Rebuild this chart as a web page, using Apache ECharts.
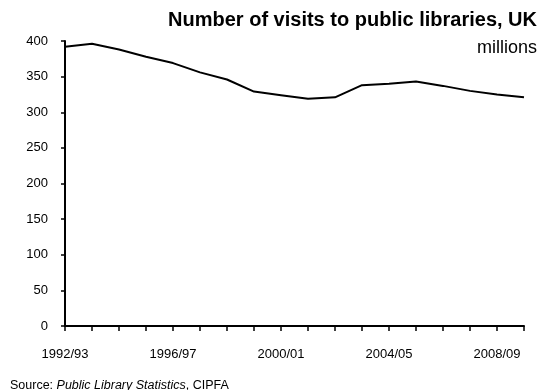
<!DOCTYPE html>
<html>
<head>
<meta charset="utf-8">
<script src="https://cdn.jsdelivr.net/npm/echarts@6/dist/echarts.min.js"></script>
<style>
  html, body { margin: 0; padding: 0; background: #fff; }
  #chart { width: 540px; height: 390px; }
</style>
</head>
<body>
<div id="chart"></div>
<script>
// financial years shown on the x axis
const years = [
  '1992/93', '1993/94', '1994/95', '1995/96', '1996/97', '1997/98',
  '1998/99', '1999/00', '2000/01', '2001/02', '2002/03', '2003/04',
  '2004/05', '2005/06', '2006/07', '2007/08', '2008/09', '2009/10'
];
// visits, millions
const visits = [392, 396, 388, 378, 369, 356, 346, 329, 324, 319, 321, 338, 340, 343, 337, 330, 325, 321];

const font = 'Liberation Sans, Arial, sans-serif';
const chart = echarts.init(document.getElementById('chart'), null, { renderer: 'canvas' });

chart.setOption({
  animation: false,
  textStyle: { fontFamily: font },
  title: [
    {
      text: 'Number of visits to public libraries, UK',
      right: 3, top: 10, padding: 0,
      textStyle: { fontFamily: font, fontSize: 20, fontWeight: 'bold', color: '#000' }
    },
    {
      text: 'millions',
      right: 3, top: 39, padding: 0,
      textStyle: { fontFamily: font, fontSize: 18, fontWeight: 'normal', color: '#000' }
    },
    {
      text: '{n|Source: }{i|Public Library Statistics}{n|, CIPFA}',
      left: 10, top: 379, padding: 0,
      textStyle: {
        fontWeight: 'normal',
        rich: {
          n: { fontFamily: font, fontSize: 12.5, fontWeight: 'normal', color: '#000' },
          i: { fontFamily: font, fontSize: 12.5, fontWeight: 'normal', fontStyle: 'italic', color: '#000' }
        }
      }
    }
  ],
  grid: { left: 65, right: 16, top: 41, bottom: 64 },
  xAxis: {
    type: 'category',
    data: years,
    boundaryGap: false,
    axisLine: { lineStyle: { color: '#000', width: 2 } },
    axisTick: { interval: 0, length: 5, lineStyle: { color: '#000', width: 1.5 } },
    axisLabel: { interval: 3, color: '#000', fontSize: 13, margin: 22 },
    splitLine: { show: false }
  },
  yAxis: {
    type: 'value',
    min: 0, max: 400, interval: 50,
    axisLine: { show: true, lineStyle: { color: '#000', width: 2 } },
    axisTick: { show: true, length: 4, lineStyle: { color: '#000', width: 1.5 } },
    axisLabel: { color: '#000', fontSize: 13, margin: 17 },
    splitLine: { show: false }
  },
  series: [{
    type: 'line',
    data: visits,
    symbol: 'none',
    lineStyle: { color: '#000', width: 2 }
  }]
});
</script>
</body>
</html>
